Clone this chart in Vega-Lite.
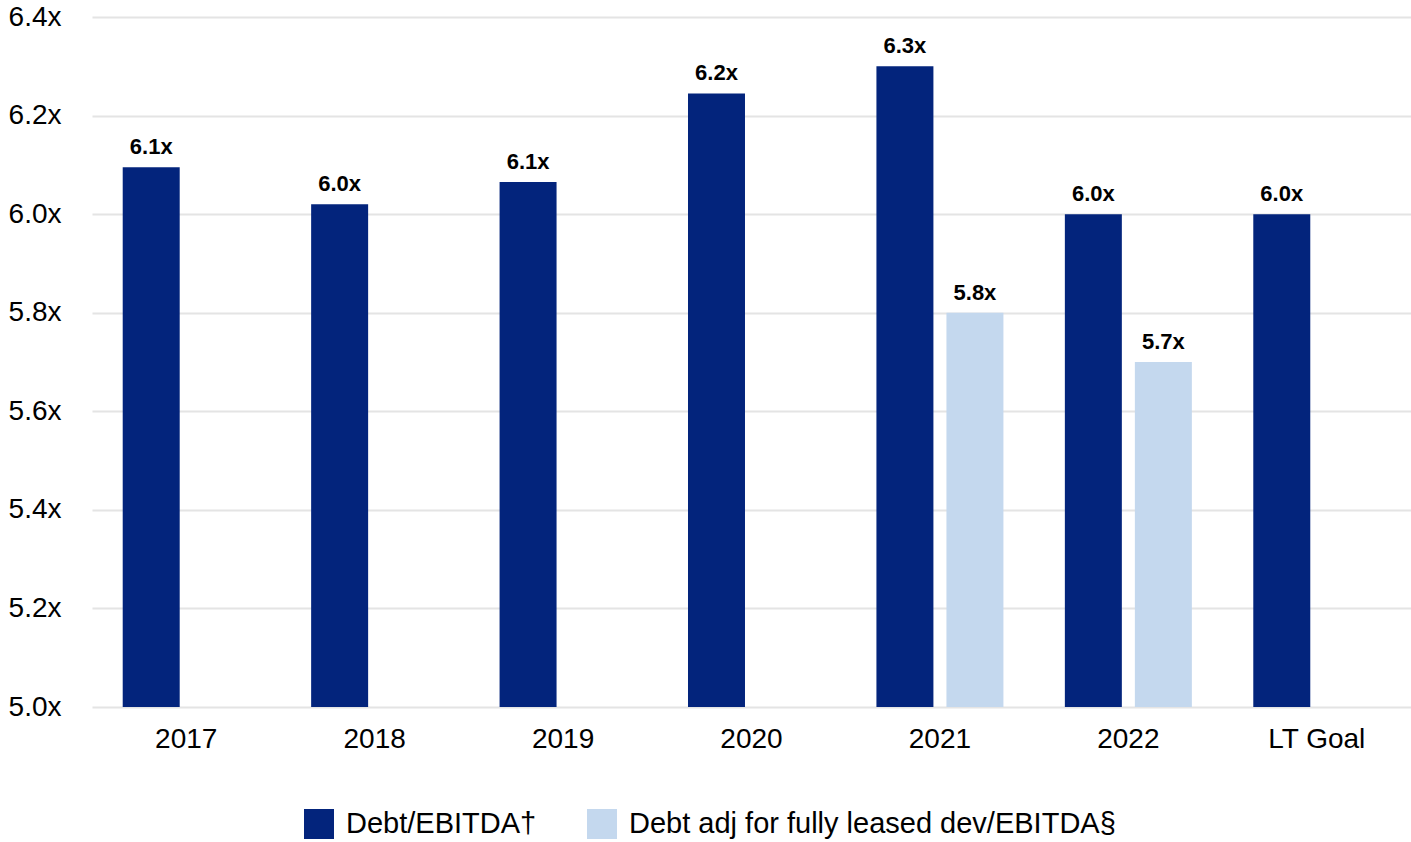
{
  "$schema": "https://vega.github.io/schema/vega-lite/v6.json",
  "width": 1319,
  "height": 690,
  "autosize": "none",
  "padding": {"left": 92, "top": 17, "right": 0, "bottom": 135},
  "background": "white",
  "config": {
    "font": "Liberation Sans",
    "view": {"stroke": null}
  },
  "data": {
    "values": [
      {"year": "2017", "series": "Debt/EBITDA†", "value": 6.095, "label": "6.1x"},
      {"year": "2018", "series": "Debt/EBITDA†", "value": 6.02, "label": "6.0x"},
      {"year": "2019", "series": "Debt/EBITDA†", "value": 6.065, "label": "6.1x"},
      {"year": "2020", "series": "Debt/EBITDA†", "value": 6.245, "label": "6.2x"},
      {"year": "2021", "series": "Debt/EBITDA†", "value": 6.3, "label": "6.3x"},
      {"year": "2021", "series": "Debt adj for fully leased dev/EBITDA§", "value": 5.8, "label": "5.8x"},
      {"year": "2022", "series": "Debt/EBITDA†", "value": 6.0, "label": "6.0x"},
      {"year": "2022", "series": "Debt adj for fully leased dev/EBITDA§", "value": 5.7, "label": "5.7x"},
      {"year": "LT Goal", "series": "Debt/EBITDA†", "value": 6.0, "label": "6.0x"}
    ]
  },
  "encoding": {
    "x": {
      "field": "year",
      "type": "nominal",
      "sort": null,
      "scale": {"paddingInner": 0.326, "paddingOuter": 0.163},
      "axis": {
        "title": null,
        "labelAngle": 0,
        "labelFontSize": 28,
        "labelColor": "#000000",
        "labelPadding": 18,
        "ticks": false,
        "domain": false,
        "grid": false
      }
    },
    "xOffset": {
      "field": "series",
      "type": "nominal",
      "scale": {"domain": ["Debt/EBITDA†", "Debt adj for fully leased dev/EBITDA§"], "paddingInner": 0.186, "paddingOuter": 0}
    }
  },
  "layer": [
    {
      "mark": {"type": "bar"},
      "encoding": {
        "y": {
          "field": "value",
          "type": "quantitative",
          "scale": {"domain": [5, 6.4], "zero": false, "nice": false},
          "axis": {
            "title": null,
            "values": [5, 5.2, 5.4, 5.6, 5.8, 6.0, 6.2, 6.4],
            "labelExpr": "format(datum.value, '.1f') + 'x'",
            "labelFontSize": 28,
            "labelColor": "#000000",
            "labelPadding": 31,
            "ticks": false,
            "domain": false,
            "grid": true,
            "gridColor": "#e4e4e4",
            "gridWidth": 2
          }
        },
        "y2": {"datum": 5},
        "color": {
          "field": "series",
          "type": "nominal",
          "scale": {
            "domain": ["Debt/EBITDA†", "Debt adj for fully leased dev/EBITDA§"],
            "range": ["#03247c", "#c4d8ee"]
          },
          "legend": {
            "title": null,
            "orient": "none",
            "direction": "horizontal",
            "legendX": 212,
            "legendY": 792,
            "symbolType": "square",
            "symbolSize": 900,
            "symbolStrokeWidth": 0,
            "labelFontSize": 29,
            "labelColor": "#000000",
            "labelOffset": 12,
            "columnPadding": 50,
            "labelLimit": 700
          }
        }
      }
    },
    {
      "mark": {"type": "text", "fontSize": 22, "fontWeight": "bold", "color": "#000000", "baseline": "alphabetic", "dy": -13},
      "encoding": {
        "y": {"field": "value", "type": "quantitative"},
        "text": {"field": "label", "type": "nominal"}
      }
    }
  ]
}
